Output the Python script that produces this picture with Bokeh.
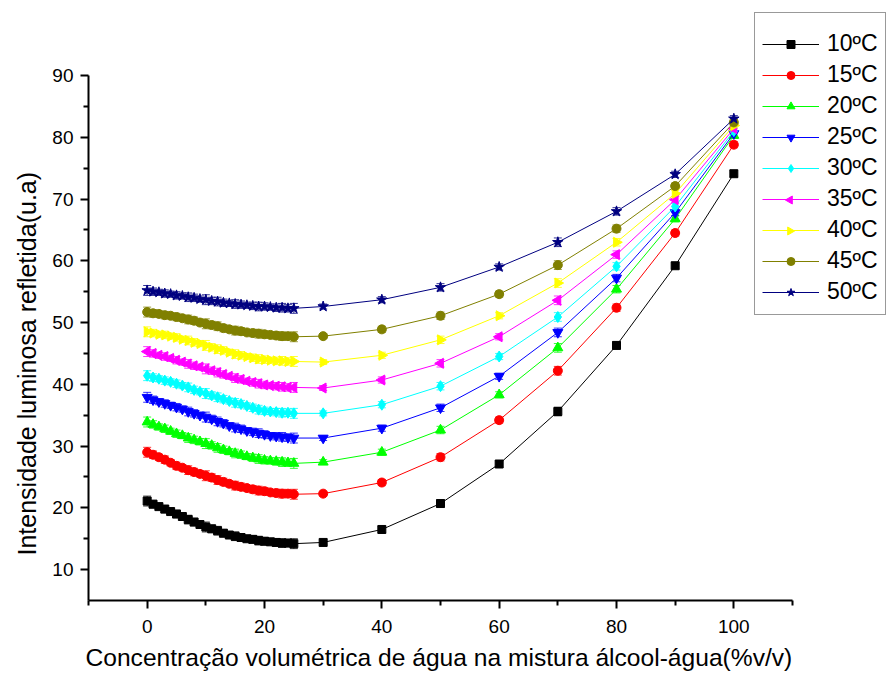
from bokeh.plotting import figure
from bokeh.models import (Range1d, FixedTicker, Legend, LegendItem, Whisker,
                          TeeHead, ColumnDataSource, Title)
from bokeh.embed import file_html
from bokeh.resources import INLINE
import numpy as np

# ---------------- data ----------------
x_dense = list(range(0, 26))
x_sparse = [30, 40, 50, 60, 70, 80, 90, 100]
x_values = x_dense + x_sparse

labels = ["10ºC", "15ºC", "20ºC", "25ºC", "30ºC", "35ºC", "40ºC", "45ºC", "50ºC"]

s10 = [21.1, 20.6, 20.2, 19.8, 19.4, 19.0, 18.6, 18.1, 17.7, 17.3, 16.9, 16.6, 16.3,
       15.9, 15.6, 15.4, 15.2, 15.0, 14.9, 14.7, 14.6, 14.5, 14.4, 14.3, 14.3, 14.2,
       14.4, 16.5, 20.7, 27.1, 35.6, 46.3, 59.2, 74.1]
s15 = [29.0, 28.6, 28.2, 27.8, 27.3, 26.8, 26.5, 26.1, 25.8, 25.5, 25.2, 24.9, 24.5,
       24.2, 23.9, 23.6, 23.4, 23.2, 23.0, 22.8, 22.7, 22.5, 22.4, 22.3, 22.3, 22.2,
       22.3, 24.1, 28.2, 34.2, 42.2, 52.4, 64.5, 78.8]
s20 = [33.9, 33.5, 33.1, 32.8, 32.4, 32.0, 31.7, 31.3, 31.0, 30.7, 30.4, 30.1, 29.7,
       29.4, 29.1, 28.8, 28.6, 28.3, 28.1, 27.9, 27.7, 27.6, 27.5, 27.4, 27.3, 27.2,
       27.4, 29.0, 32.6, 38.3, 45.9, 55.4, 66.8, 80.3]
s25 = [37.9, 37.5, 37.2, 36.9, 36.6, 36.3, 36.0, 35.6, 35.3, 35.0, 34.7, 34.4, 34.0,
       33.7, 33.3, 33.0, 32.8, 32.5, 32.3, 32.1, 31.9, 31.7, 31.6, 31.5, 31.4, 31.3,
       31.3, 32.9, 36.2, 41.3, 48.4, 57.2, 67.8, 80.6]
s30 = [41.4, 41.1, 40.9, 40.6, 40.4, 40.1, 39.8, 39.5, 39.1, 38.8, 38.5, 38.2, 37.9,
       37.6, 37.3, 37.0, 36.8, 36.5, 36.2, 35.9, 35.7, 35.6, 35.5, 35.4, 35.4, 35.3,
       35.3, 36.7, 39.7, 44.5, 50.9, 59.1, 68.8, 81.0]
s35 = [45.3, 45.0, 44.7, 44.5, 44.2, 43.9, 43.6, 43.3, 43.0, 42.8, 42.5, 42.2, 41.9,
       41.6, 41.3, 41.0, 40.8, 40.5, 40.3, 40.1, 39.9, 39.8, 39.7, 39.6, 39.5, 39.5,
       39.4, 40.7, 43.4, 47.7, 53.6, 61.0, 69.9, 81.4]
s40 = [48.5, 48.3, 48.1, 48.0, 47.8, 47.6, 47.3, 47.1, 46.8, 46.6, 46.3, 46.0, 45.7,
       45.5, 45.2, 44.9, 44.7, 44.5, 44.3, 44.1, 44.0, 43.9, 43.8, 43.8, 43.7, 43.7,
       43.6, 44.7, 47.2, 51.1, 56.4, 63.0, 70.9, 81.9]
s45 = [51.7, 51.5, 51.4, 51.2, 51.1, 50.9, 50.7, 50.5, 50.3, 50.0, 49.8, 49.6, 49.4,
       49.1, 48.9, 48.7, 48.6, 48.4, 48.3, 48.2, 48.1, 48.0, 47.9, 47.8, 47.8, 47.7,
       47.8, 48.9, 51.1, 54.6, 59.3, 65.2, 72.1, 82.4]
s50 = [55.2, 55.0, 54.9, 54.7, 54.6, 54.4, 54.3, 54.1, 54.0, 53.8, 53.7, 53.5, 53.4,
       53.2, 53.1, 53.0, 52.9, 52.8, 52.7, 52.6, 52.6, 52.5, 52.4, 52.4, 52.3, 52.3,
       52.6, 53.7, 55.7, 59.0, 63.0, 68.0, 74.0, 83.0]

err = [0.8, 0.6, 0.5, 0.6, 0.5, 0.6, 0.5, 0.7, 0.6, 0.5, 0.8, 0.6, 0.7, 0.6, 0.5, 0.7,
       0.6, 0.5, 0.6, 0.7, 0.6, 0.5, 0.6, 0.7, 0.6, 0.8,
       0.4, 0.5, 0.6, 0.5, 0.7, 0.6, 0.5, 0.5]

x_major = [0, 20, 40, 60, 80, 100]
x_minor = [-10, 10, 30, 50, 70, 90, 110]
y_major = [10, 20, 30, 40, 50, 60, 70, 80, 90]
y_minor = [15, 25, 35, 45, 55, 65, 75, 85]
x_axis_span = (-10, 110)
y_axis_span = (5, 90)

series = [s10, s15, s20, s25, s30, s35, s40, s45, s50]
colors = ["#000000", "#FF0000", "#00FF00", "#0000FF", "#00FFFF", "#FF00FF",
          "#FFFF00", "#808000", "#000080"]
markers = ["square", "circle", "triangle", "inverted_triangle", "diamond",
           "triangle", "triangle", "circle", "star"]
angles = [0, 0, 0, 0, 0, np.pi / 2, -np.pi / 2, 0, 0]
sizes = [8, 9, 10, 10, 11, 10, 10, 9, 11]

FONT = "Liberation Sans"

# Frame spans from the axis corner to the top/right edges of the page so the
# legend (which sits partly above the plot) is not clipped; the axes
# themselves are limited to their data spans with `bounds`.
W, H = 886, 677
LEFT, BOTTOM = 88, 77
AX_RIGHT_PX, AX_TOP_PX = 792, 75
fw = W - LEFT
fh = H - BOTTOM
x_end = x_axis_span[0] + (x_axis_span[1] - x_axis_span[0]) * fw / (AX_RIGHT_PX - LEFT)
y_end = y_axis_span[0] + (y_axis_span[1] - y_axis_span[0]) * fh / (H - BOTTOM - AX_TOP_PX)

p = figure(width=W, height=H, output_backend="svg", toolbar_location=None,
           x_range=Range1d(x_axis_span[0], x_end), y_range=Range1d(y_axis_span[0], y_end),
           min_border_left=LEFT, min_border_right=0, min_border_top=0,
           min_border_bottom=BOTTOM)
p.outline_line_color = None
p.xgrid.visible = False
p.ygrid.visible = False
p.background_fill_color = "white"
p.border_fill_color = "white"

p.xaxis.ticker = FixedTicker(ticks=x_major, minor_ticks=x_minor)
p.yaxis.ticker = FixedTicker(ticks=y_major, minor_ticks=y_minor)
p.xaxis.bounds = x_axis_span
p.yaxis.bounds = y_axis_span
for ax in (p.xaxis[0], p.yaxis[0]):
    ax.axis_line_width = 2
    ax.major_tick_line_width = 2
    ax.minor_tick_line_width = 2
    ax.major_tick_out = 8
    ax.major_tick_in = 0
    ax.minor_tick_out = 5
    ax.minor_tick_in = 0
    ax.major_label_text_font = FONT
    ax.major_label_text_font_size = "19px"
    ax.major_label_text_color = "black"
p.xaxis.major_label_standoff = 11
p.yaxis.major_label_standoff = 7

xt = Title(text="Concentração volumétrica de água na mistura álcool-água(%v/v)",
           align="left", offset=85 - LEFT, text_font=FONT,
           text_font_size="24.6px", text_font_style="normal", text_color="black",
           standoff=12)
p.add_layout(xt, "below")
yt = Title(text="Intensidade luminosa refletida(u.a)", align="left",
           offset=(H - BOTTOM) - 555, text_font=FONT, text_font_size="25px",
           text_font_style="normal", text_color="black", standoff=17)
p.add_layout(yt, "left")

items = []
for ys, c, m, a, sz, lab in zip(series, colors, markers, angles, sizes, labels):
    lo = [y - e for y, e in zip(ys, err)]
    hi = [y + e for y, e in zip(ys, err)]
    src = ColumnDataSource(dict(x=x_values, y=ys, lo=lo, hi=hi))
    ln = p.line("x", "y", source=src, line_color=c, line_width=1)
    w = Whisker(base="x", lower="lo", upper="hi", source=src, dimension="height",
                line_color=c, line_width=1, line_alpha=0.8,
                upper_head=TeeHead(size=8, line_color=c, line_width=1, line_alpha=0.8),
                lower_head=TeeHead(size=8, line_color=c, line_width=1, line_alpha=0.8))
    p.add_layout(w)
    sc = p.scatter("x", "y", source=src, marker=m, angle=a, size=sz,
                   fill_color=c, line_color=c)
    # Bokeh draws legend markers unrotated, so rotated keys get a separate marker
    rends = [ln] if a != 0 else [ln, sc]
    items.append(LegendItem(label=lab, renderers=rends))

# legend geometry (screen pixels)
LG_LEFT, LG_BOTTOM, LG_PAD, ROW, GW = 754, 315, 7, 31, 57
legend = Legend(items=items, location=(LG_LEFT - LEFT, (H - BOTTOM) - LG_BOTTOM))
legend.title = " "
legend.title_text_font_size = "6px"
legend.title_standoff = 2
legend.padding = LG_PAD
legend.spacing = 0
legend.margin = 0
legend.glyph_width = GW
legend.glyph_height = 20
legend.label_height = ROW
legend.label_standoff = 8
legend.label_text_font = FONT
legend.label_text_font_size = "23px"
legend.label_text_color = "black"
legend.border_line_color = "#333333"
legend.border_line_width = 1.5
legend.background_fill_alpha = 0
p.add_layout(legend)

# rotated legend keys drawn beneath the (transparent) legend
def px_to_x(sx):
    return x_axis_span[0] + (sx - LEFT) * (x_axis_span[1] - x_axis_span[0]) / (AX_RIGHT_PX - LEFT)

def px_to_y(sy):
    return y_axis_span[0] + ((H - BOTTOM) - sy) * (y_axis_span[1] - y_axis_span[0]) / (H - BOTTOM - AX_TOP_PX)

n = len(labels)
key_idx = [i for i in range(n) if angles[i] != 0]
kx = [px_to_x(LG_LEFT + LG_PAD + GW / 2)] * len(key_idx)
ky = [px_to_y(LG_BOTTOM - LG_PAD - ROW / 2 - (n - 1 - i) * ROW) for i in key_idx]
p.scatter(kx, ky, marker=[markers[i] for i in key_idx],
          angle=[angles[i] for i in key_idx], size=[8 for i in key_idx],
          fill_color=[colors[i] for i in key_idx], line_color=[colors[i] for i in key_idx])

open("out.html", "w").write(file_html(p, INLINE))
